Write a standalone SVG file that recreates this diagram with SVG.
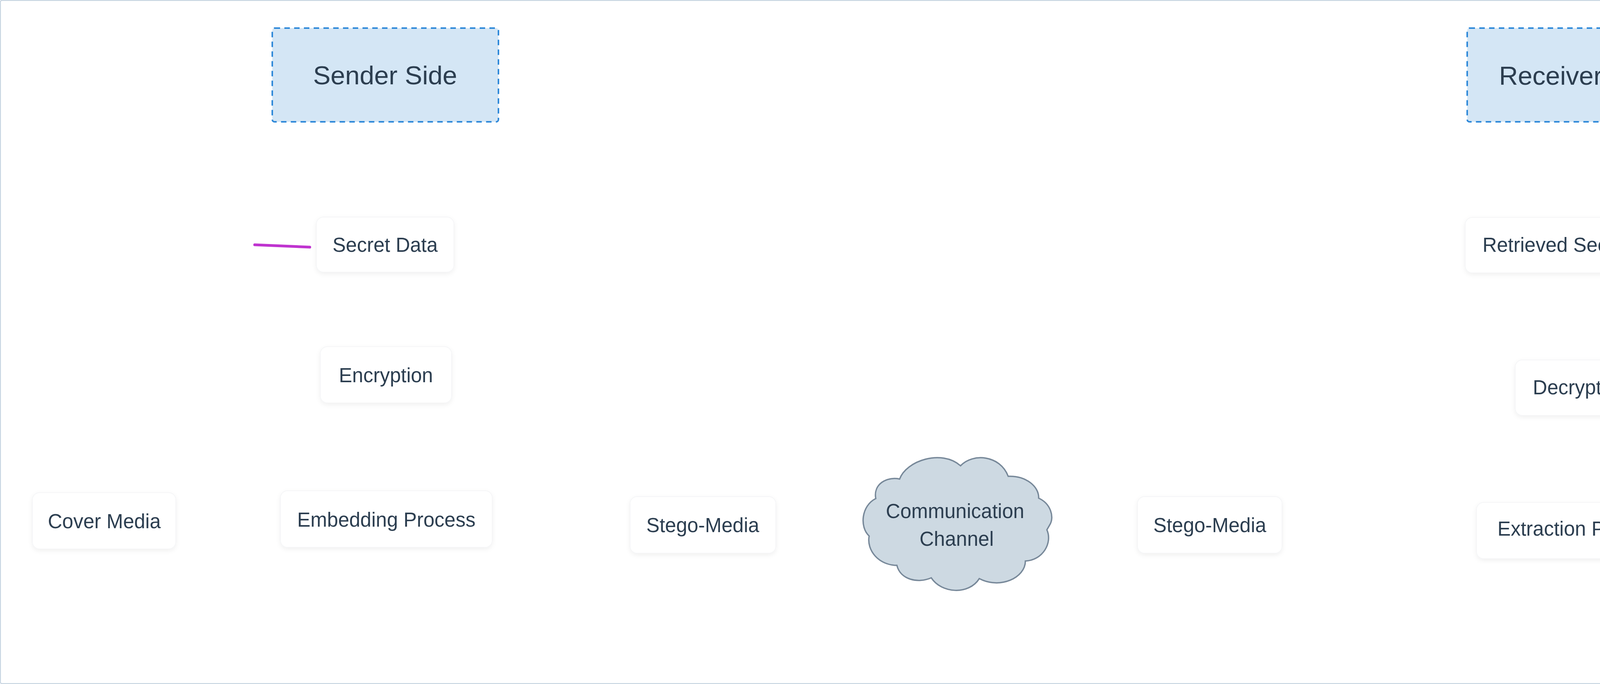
<svg xmlns="http://www.w3.org/2000/svg" width="4608" height="1752" viewBox="0 0 4608 1752">
<defs>
<filter id="sh" x="-20%" y="-30%" width="140%" height="160%">
<feDropShadow dx="0" dy="4" stdDeviation="6" flood-color="#000" flood-opacity="0.06"/>
</filter>
</defs>
<style>
.lbl{font-family:"Liberation Sans",Arial,sans-serif;font-size:51px;fill:#2c3e50;text-anchor:middle}
.ttl{font-family:"Liberation Sans",Arial,sans-serif;font-size:67px;fill:#2c3e50;text-anchor:middle}
.node{fill:#ffffff;stroke:#f3f4f6;stroke-width:1.5;filter:url(#sh)}
.side{fill:#d4e6f5;stroke:#2f89d9;stroke-width:4;stroke-dasharray:14 11}
.conn{stroke:#bf33cf;stroke-width:7;stroke-linecap:round;fill:none}
</style>
<rect x="0" y="0" width="4608" height="1752" fill="#ffffff"/>
<rect x="1" y="1" width="4606" height="1750" rx="4" fill="none" stroke="#c5d3e0" stroke-width="2.5"/>

<g id="connectors">
<line class="conn" x1="652" y1="627" x2="793" y2="633"/>
<line class="conn" x1="4210" y1="996" x2="4382" y2="996"/>
</g>

<g id="sender-side">
<rect class="side" x="697" y="72" width="579" height="240" rx="6"/>
<text class="ttl" x="986" y="216">Sender Side</text>
</g>
<g id="receiver-side">
<rect class="side" x="3756" y="72" width="579" height="240" rx="6"/>
<text class="ttl" x="4046" y="217">Receiver Side</text>
</g>

<g id="secret-data">
<rect class="node" x="810" y="556" width="352" height="141" rx="18"/>
<text class="lbl" x="986" y="645">Secret Data</text>
</g>
<g id="encryption">
<rect class="node" x="820" y="888" width="336" height="144" rx="18"/>
<text class="lbl" x="988" y="979">Encryption</text>
</g>
<g id="cover-media">
<rect class="node" x="83" y="1262" width="367" height="144" rx="18"/>
<text class="lbl" x="267" y="1353">Cover Media</text>
</g>
<g id="embedding-process">
<rect class="node" x="718" y="1257" width="542" height="145" rx="18"/>
<text class="lbl" x="989" y="1349">Embedding Process</text>
</g>
<g id="stego-media-1">
<rect class="node" x="1613" y="1272" width="373" height="145" rx="18"/>
<text class="lbl" x="1799" y="1363">Stego-Media</text>
</g>
<g id="communication-channel">
<path d="M 2303 1227 C 2320 1180, 2410 1150, 2459 1193 C 2490 1160, 2560 1165, 2581 1220 C 2625 1218, 2660 1245, 2659 1276 C 2690 1290, 2700 1325, 2687 1345 L 2680 1357 C 2695 1390, 2670 1435, 2625 1437 C 2625 1480, 2560 1510, 2507 1482 C 2480 1525, 2410 1520, 2384 1480 C 2350 1495, 2305 1485, 2296 1448 C 2250 1448, 2218 1410, 2225 1373 C 2200 1350, 2205 1295, 2242 1277 C 2235 1240, 2270 1220, 2303 1227 Z" fill="#cdd9e2" stroke="#778899" stroke-width="3.5"/>
<text class="lbl" x="2445" y="1327">Communication</text>
<text class="lbl" x="2449" y="1398">Channel</text>
</g>
<g id="stego-media-2">
<rect class="node" x="2912" y="1272" width="370" height="145" rx="18"/>
<text class="lbl" x="3097" y="1363">Stego-Media</text>
</g>
<g id="retrieved-secret-data">
<rect class="node" x="3751" y="557" width="589" height="142" rx="18"/>
<text class="lbl" x="4046" y="645">Retrieved Secret Data</text>
</g>
<g id="decryption">
<rect class="node" x="3879" y="922" width="334" height="142" rx="18"/>
<text class="lbl" x="4046" y="1010">Decryption</text>
</g>
<g id="extraction-process">
<rect class="node" x="3780" y="1287" width="531" height="144" rx="18"/>
<text class="lbl" x="4046" y="1372">Extraction Process</text>
</g>
</svg>
